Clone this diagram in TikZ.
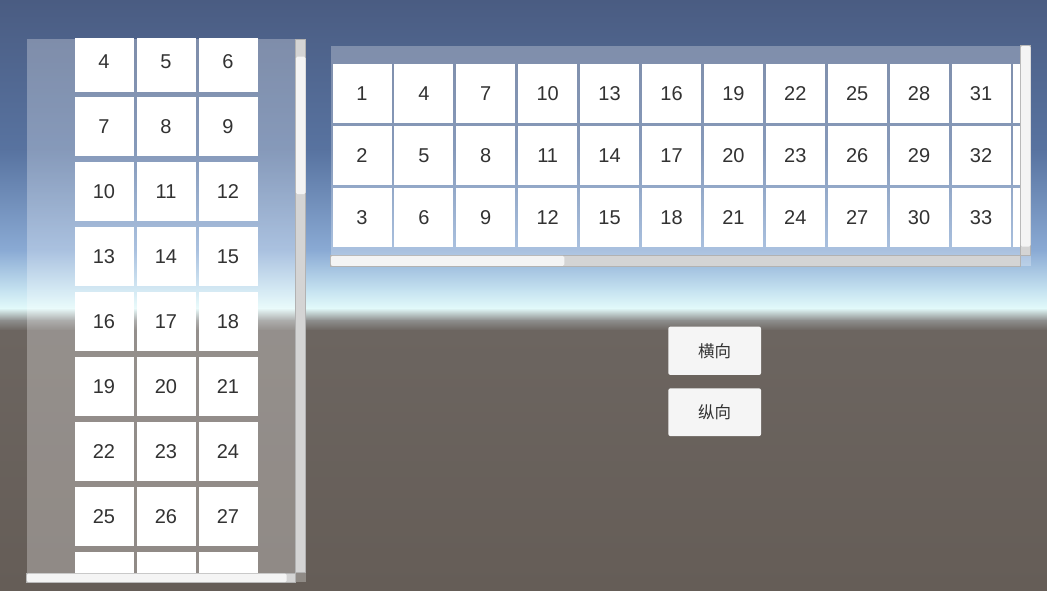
\documentclass[tikz,border=0pt]{standalone}
\usepackage{fontspec}
\setmainfont{Liberation Sans}
\newfontfamily\cjk{Noto Sans CJK SC}
\definecolor{skyA}{HTML}{4A5C82}
\definecolor{skyB}{HTML}{5873A0}
\definecolor{skyC}{HTML}{8AAAD4}
\definecolor{skyD}{HTML}{C5E2F0}
\definecolor{skyE}{HTML}{E2FAFA}
\definecolor{grA}{HTML}{8E8F8E}
\definecolor{grB}{HTML}{6C6560}
\definecolor{grC}{HTML}{655D57}
\definecolor{txt}{HTML}{323232}
\definecolor{track}{HTML}{D4D4D4}
\definecolor{handle}{HTML}{F4F4F4}
\definecolor{btnfill}{HTML}{F5F5F5}
\begin{document}
\begin{tikzpicture}[x=1pt,y=-1pt,
  cell/.style={fill=white, minimum width=59pt, minimum height=59pt, inner sep=0pt, anchor=north west, font=\fontsize{20}{20}\selectfont, text=txt},
  panelbg/.style={fill=white, fill opacity=0.28},
  trackbar/.style={fill=track, draw=gray!60, line width=0.5pt},
  handlebar/.style={fill=handle, rounded corners=1.5pt},
  btn/.style={fill=btnfill, rounded corners=2pt, minimum width=92.7pt, inner sep=0pt, font=\cjk\fontsize{16.5}{16.5}\selectfont, text=txt}]
\useasboundingbox (0,0) rectangle (1047,591);
% background sky and ground
\shade[top color=skyA, bottom color=skyB] (0,0) rectangle (1047,150.5);
\shade[top color=skyB, bottom color=skyC] (0,150) rectangle (1047,250.5);
\shade[top color=skyC, bottom color=skyD] (0,250) rectangle (1047,290.5);
\shade[top color=skyD, bottom color=skyE] (0,290) rectangle (1047,308.5);
\shade[top color=skyE, bottom color=grA] (0,308) rectangle (1047,320.5);
\shade[top color=grA, bottom color=grB] (0,320) rectangle (1047,330.5);
\shade[top color=grB, bottom color=grC] (0,330) rectangle (1047,591);

% ---------------- left (vertical) scroll view ----------------
\fill[panelbg] (26.7,39) rectangle (305.7,582.3);
\begin{scope}
  \clip (26.7,39) rectangle (295.7,572.5);
  \foreach \k in {0,...,8}
    \foreach \c in {0,1,2} {
      \pgfmathtruncatemacro\n{3*\k+4+\c}
      \node[cell] (L\k-\c) at ({74.3+62*\c},{32.4+64.9*\k}) {\ifnum\k<8 \n\fi};
    }
\end{scope}
% vertical scrollbar
\fill[trackbar] (295.7,39) rectangle (305.7,572);
\fill[handlebar] (295.9,56.7) rectangle (305.5,194);
% horizontal scrollbar
\fill[trackbar] (26.7,573.3) rectangle (295.7,582.3);
\fill[handlebar] (26.9,573.5) rectangle (286.7,582.1);

% ---------------- right (horizontal) scroll view ----------------
\fill[panelbg] (330.7,45.7) rectangle (1030.7,266);
\begin{scope}
  \clip (330.7,45.7) rectangle (1020.7,255.7);
  \foreach \i in {0,...,11}
    \foreach \j in {0,1,2} {
      \pgfmathtruncatemacro\n{3*\i+\j+1}
      \node[cell] (R\i-\j) at ({332.3+61.9*\i},{64.3+61.9*\j}) {\ifnum\i<11 \n\fi};
    }
\end{scope}
% vertical scrollbar
\fill[trackbar] (1020.7,45.7) rectangle (1030.7,255.2);
\fill[handlebar] (1020.9,45.9) rectangle (1030.5,246.7);
% horizontal scrollbar
\fill[trackbar] (330.7,255.7) rectangle (1020.7,266);
\fill[handlebar] (330.9,255.9) rectangle (564.3,265.8);

% ---------------- buttons ----------------
\node[btn, minimum height=48.3pt] (hbtn) at (714.7,350.8) {横向};
\node[btn, minimum height=47.7pt] (vbtn) at (714.7,412.2) {纵向};
\end{tikzpicture}
\end{document}
